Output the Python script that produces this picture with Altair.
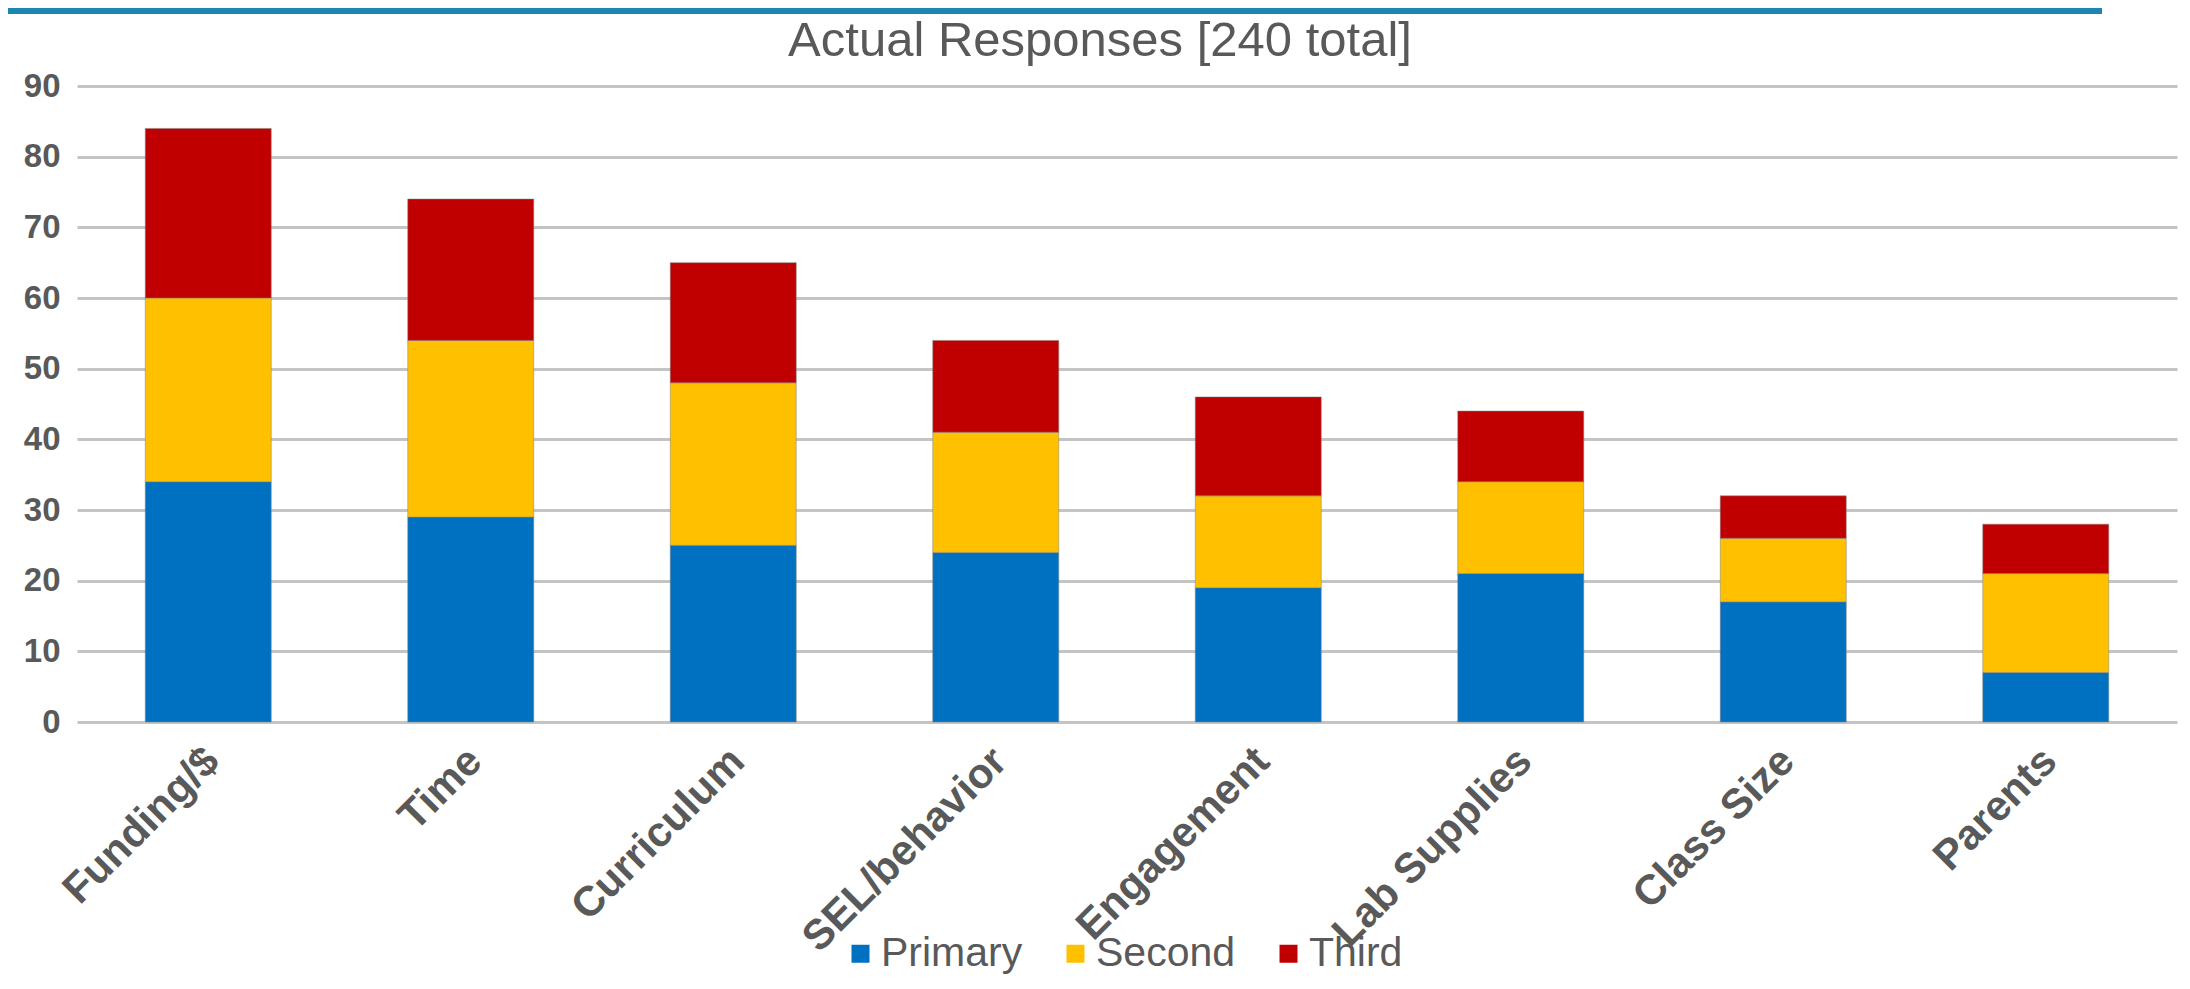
import altair as alt
import pandas as pd

categories = ["Funding/$", "Time", "Curriculum", "SEL/behavior", "Engagement",
              "Lab Supplies", "Class Size", "Parents"]
series = ["Primary", "Second", "Third"]
primary = [34, 29, 25, 24, 19, 21, 17, 7]
second = [26, 25, 23, 17, 13, 13, 9, 14]
third = [24, 20, 17, 13, 14, 10, 6, 7]
colors = ["#0070C0", "#FFC000", "#C00000"]
y_ticks = [0, 10, 20, 30, 40, 50, 60, 70, 80, 90]

rows = []
for i, c in enumerate(categories):
    for k, (s, vals) in enumerate(zip(series, [primary, second, third])):
        rows.append({"category": c, "series": s, "order": k, "value": vals[i]})
df = pd.DataFrame(rows)

FONT = "Liberation Sans"
GREY = "#595959"

bars = alt.Chart(df).mark_bar(
    stroke="#7f7f7f", strokeWidth=1, strokeOpacity=0.5
).encode(
    x=alt.X("category:N", sort=categories, title=None,
            scale=alt.Scale(paddingInner=0.52, paddingOuter=0.26),
            axis=alt.Axis(labelAngle=-45, labelFontSize=42, labelFontWeight="bold",
                          labelColor=GREY, labelFont=FONT, ticks=False, domain=False,
                          labelPadding=18, labelOffset=-10, labelOverlap=False,
                          labelLimit=0, labelBound=False)),
    y=alt.Y("value:Q", stack="zero", title=None,
            scale=alt.Scale(domain=[0, 90], nice=False),
            axis=alt.Axis(values=y_ticks, labelFontSize=33, labelFontWeight="bold",
                          labelColor=GREY, labelFont=FONT, ticks=False, domain=False,
                          labelPadding=17, gridColor="#C4C4C4", gridWidth=3)),
    color=alt.Color("series:N", sort=series,
                    scale=alt.Scale(domain=series, range=colors),
                    legend=alt.Legend(orient="none", direction="horizontal",
                                      legendX=763, legendY=847, title=None,
                                      symbolType="square", symbolSize=324,
                                      symbolStrokeWidth=0, labelFontSize=41,
                                      labelFont=FONT, labelColor=GREY,
                                      labelOffset=0, columnPadding=32,
                                      labelLimit=0)),
    order=alt.Order("order:Q", sort="ascending"),
)

band = alt.Chart(pd.DataFrame({"a": [0]})).mark_rule(
    color="#1B86B3", strokeWidth=6
).encode(x=alt.value(-69), x2=alt.value(2025), y=alt.value(-75))

chart = alt.layer(bars, band).properties(
    width=2100, height=636,
    autosize=alt.AutoSizeParams(type="none"),
    padding={"left": 69, "top": 78, "right": 5, "bottom": 255},
    title=alt.Title("Actual Responses [240 total]", fontSize=49, font=FONT,
                    fontWeight="normal", color=GREY, anchor="middle",
                    baseline="alphabetic", offset=-97, dx=-27),
).configure_view(stroke=None)

chart.save("out.html", embed_options={"renderer": "svg", "actions": False})
